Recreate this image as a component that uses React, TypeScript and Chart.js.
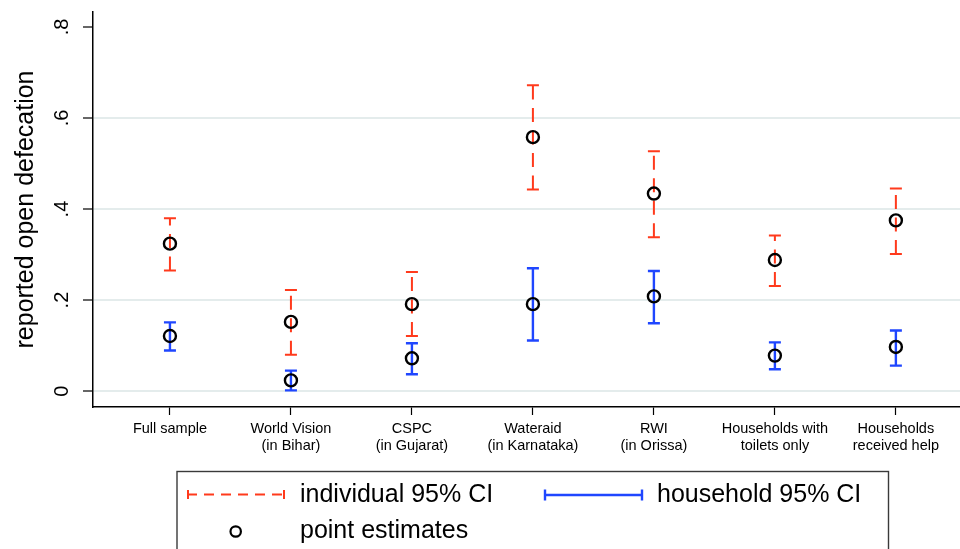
import React, { useEffect, useRef } from 'react';
import { Chart, registerables } from 'chart.js';

Chart.register(...registerables);

const categories: string[][] = [
  ['Full sample'],
  ['World Vision', '(in Bihar)'],
  ['CSPC', '(in Gujarat)'],
  ['Wateraid', '(in Karnataka)'],
  ['RWI', '(in Orissa)'],
  ['Households with', 'toilets only'],
  ['Households', 'received help'],
];

const indPoint = [0.324, 0.152, 0.191, 0.558, 0.434, 0.288, 0.375];
const indLow = [0.265, 0.08, 0.121, 0.443, 0.338, 0.231, 0.301];
const indHigh = [0.38, 0.222, 0.2615, 0.672, 0.527, 0.342, 0.445];

const hhPoint = [0.121, 0.0235, 0.072, 0.191, 0.208, 0.078, 0.097];
const hhLow = [0.089, 0.0015, 0.037, 0.111, 0.149, 0.048, 0.056];
const hhHigh = [0.151, 0.045, 0.105, 0.27, 0.264, 0.107, 0.133];

const yTicks = [0, 0.2, 0.4, 0.6, 0.8];
const yTickLabels = ['0', '.2', '.4', '.6', '.8'];

const legendLabels = ['individual 95% CI', 'household 95% CI', 'point estimates'];

const RED = '#ff3a1c';
const BLUE = '#1f46ff';
const FONT = '"Liberation Sans", Arial, Helvetica, sans-serif';

function drawBar(ctx: CanvasRenderingContext2D, x: number, yLow: number, yHigh: number, color: string, width: number, dashed: boolean) {
  const cap = 6;
  ctx.save();
  ctx.strokeStyle = color;
  ctx.lineWidth = width;
  ctx.lineCap = 'butt';
  if (dashed) ctx.setLineDash([14, 8.5]);
  ctx.beginPath();
  ctx.moveTo(x, yLow);
  ctx.lineTo(x, yHigh);
  ctx.stroke();
  ctx.setLineDash([]);
  ctx.beginPath();
  ctx.moveTo(x - cap, yLow);
  ctx.lineTo(x + cap, yLow);
  ctx.moveTo(x - cap, yHigh);
  ctx.lineTo(x + cap, yHigh);
  ctx.stroke();
  ctx.restore();
}

const errorBarPlugin = {
  id: 'errorBars',
  beforeDatasetsDraw(chart: any) {
    const ctx = chart.ctx as CanvasRenderingContext2D;
    const xs = chart.scales.x;
    const ys = chart.scales.y;
    for (let i = 0; i < categories.length; i++) {
      const x = xs.getPixelForValue(i + 1);
      drawBar(ctx, x, ys.getPixelForValue(indLow[i]), ys.getPixelForValue(indHigh[i]), RED, 2, true);
      drawBar(ctx, x, ys.getPixelForValue(hhLow[i]), ys.getPixelForValue(hhHigh[i]), BLUE, 2.4, false);
    }
  },
};

const legendPlugin = {
  id: 'customLegend',
  afterDraw(chart: any) {
    const ctx = chart.ctx as CanvasRenderingContext2D;
    ctx.save();
    ctx.strokeStyle = '#3a3a3a';
    ctx.lineWidth = 1.4;
    ctx.strokeRect(177, 471.5, 711.5, 100);

    const ry = 494.5;
    ctx.strokeStyle = RED;
    ctx.lineWidth = 2;
    ctx.setLineDash([10, 7]);
    ctx.beginPath();
    ctx.moveTo(187, ry);
    ctx.lineTo(285, ry);
    ctx.stroke();
    ctx.setLineDash([]);
    ctx.beginPath();
    ctx.moveTo(188, ry - 4.5);
    ctx.lineTo(188, ry + 4.5);
    ctx.moveTo(284, ry - 4.5);
    ctx.lineTo(284, ry + 4.5);
    ctx.stroke();

    const by = 495;
    ctx.strokeStyle = BLUE;
    ctx.lineWidth = 2.4;
    ctx.beginPath();
    ctx.moveTo(544, by);
    ctx.lineTo(643, by);
    ctx.moveTo(545, by - 5.5);
    ctx.lineTo(545, by + 5.5);
    ctx.moveTo(642, by - 5.5);
    ctx.lineTo(642, by + 5.5);
    ctx.stroke();

    ctx.strokeStyle = '#000';
    ctx.lineWidth = 2.2;
    ctx.beginPath();
    ctx.arc(235.7, 531.5, 5.2, 0, Math.PI * 2);
    ctx.stroke();

    ctx.fillStyle = '#000';
    ctx.font = `25px ${FONT}`;
    ctx.textBaseline = 'middle';
    ctx.textAlign = 'left';
    ctx.fillText(legendLabels[0], 300, 495);
    ctx.fillText(legendLabels[1], 657, 495);
    ctx.fillText(legendLabels[2], 300, 531);
    ctx.restore();
  },
};

export default function App() {
  const canvasRef = useRef<HTMLCanvasElement | null>(null);

  useEffect(() => {
    document.body.style.margin = '0';
    const canvas = canvasRef.current;
    if (!canvas) return;
    const pointStyle = {
      showLine: false,
      pointRadius: 6,
      pointHoverRadius: 6,
      pointBorderWidth: 2.4,
      pointBorderColor: '#000',
      pointBackgroundColor: 'rgba(0,0,0,0)',
    };
    const chart = new Chart(canvas, {
      type: 'scatter',
      data: {
        datasets: [
          { label: 'individual', data: indPoint.map((v, i) => ({ x: i + 1, y: v })), ...pointStyle },
          { label: 'household', data: hhPoint.map((v, i) => ({ x: i + 1, y: v })), ...pointStyle },
        ],
      },
      options: {
        animation: false,
        responsive: false,
        maintainAspectRatio: false,
        layout: { autoPadding: false, padding: { top: 12, left: 0, right: 0, bottom: 0 } },
        plugins: { legend: { display: false }, tooltip: { enabled: false } },
        scales: {
          x: {
            type: 'linear',
            min: 0.364,
            max: 7.53,
            afterBuildTicks: (s: any) => {
              s.ticks = categories.map((_, i) => ({ value: i + 1 }));
            },
            afterFit: (s: any) => {
              s.height = 142;
              s.paddingLeft = 0;
              s.paddingRight = 0;
            },
            ticks: {
              callback: (_v: any, i: number) => categories[i],
              autoSkip: false,
              maxRotation: 0,
              minRotation: 0,
              padding: 6,
              color: '#000',
              font: { family: FONT, size: 14.5, lineHeight: 1.17 },
            },
            grid: {
              display: true,
              drawOnChartArea: false,
              drawTicks: true,
              tickLength: 8,
              tickColor: '#000',
              tickWidth: 1.2,
            },
            border: { display: true, color: '#000', width: 1.5 },
          },
          y: {
            type: 'linear',
            min: -0.035,
            max: 0.833,
            afterBuildTicks: (s: any) => {
              s.ticks = yTicks.map((v) => ({ value: v }));
            },
            afterFit: (s: any) => {
              s.width = 93;
              s.paddingTop = 0;
              s.paddingBottom = 0;
            },
            ticks: {
              callback: (_v: any, i: number) => yTickLabels[i],
              minRotation: 90,
              maxRotation: 90,
              crossAlign: 'center',
              padding: 12,
              color: '#000',
              font: { family: FONT, size: 20 },
            },
            grid: {
              color: (c: any) => (c.tick && Math.abs(c.tick.value - 0.8) < 1e-6 ? 'rgba(0,0,0,0)' : '#e4ecec'),
              lineWidth: 2,
              drawTicks: true,
              tickLength: 10,
              tickColor: '#000',
              tickWidth: 1.2,
            },
            border: { display: true, color: '#000', width: 1.5 },
            title: {
              display: true,
              text: 'reported open defecation',
              color: '#000',
              font: { family: FONT, size: 25 },
              padding: { top: 11, bottom: 0 },
            },
          },
        },
      },
      plugins: [errorBarPlugin, legendPlugin],
    } as any);
    return () => chart.destroy();
  }, []);

  return (
    <div style={{ position: 'absolute', left: 0, top: 0, width: '960px', height: '549px', background: '#fff' }}>
      <canvas ref={canvasRef} width={960} height={549} style={{ display: 'block', width: '960px', height: '549px' }} />
    </div>
  );
}
